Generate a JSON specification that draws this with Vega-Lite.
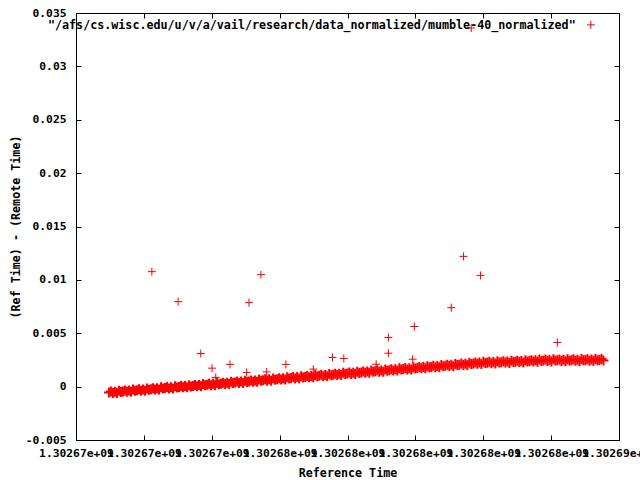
{
"$schema":"https://vega.github.io/schema/vega-lite/v6.json",
"width":543,"height":427,
"autosize":{"type":"none"},
"padding":{"left":76,"top":13,"right":21,"bottom":40},
"background":"white",
"config":{
"font":"DejaVu Sans Mono",
"view":{"stroke":"black","strokeWidth":1},
"axis":{"domainColor":"black","tickColor":"black","labelColor":"black","titleColor":"black","labelFont":"DejaVu Sans Mono","titleFont":"DejaVu Sans Mono","labelFontSize":11.3,"titleFontSize":11.7,"labelFontWeight":"bold","titleFontWeight":"bold","grid":false,"tickSize":-5,"labelFlush":false,"labelOverlap":false,"labelLimit":0}
},
"datasets":{
"band":[
{"t":1302670970,"d":-0.00056},{"t":1302671029,"d":-0.00046},{"t":1302671088,"d":-0.00059},{"t":1302671147,"d":-0.00047},{"t":1302671206,"d":-0.0006},{"t":1302671265,"d":-0.00038},{"t":1302671324,"d":-0.0005},{"t":1302671383,"d":-0.00045},{"t":1302671442,"d":-0.00036},{"t":1302671501,"d":-0.00048},
{"t":1302671560,"d":-0.00037},{"t":1302671619,"d":-0.00049},{"t":1302671678,"d":-0.00028},{"t":1302671737,"d":-0.00039},{"t":1302671796,"d":-0.00035},{"t":1302671855,"d":-0.00025},{"t":1302671914,"d":-0.00038},{"t":1302671973,"d":-0.00026},{"t":1302672032,"d":-0.00039},{"t":1302672091,"d":-0.00017},
{"t":1302672150,"d":-0.00029},{"t":1302672209,"d":-0.00024},{"t":1302672268,"d":-0.00015},{"t":1302672327,"d":-0.00027},{"t":1302672386,"d":-0.00016},{"t":1302672445,"d":-0.00028},{"t":1302672504,"d":-0.00007},{"t":1302672563,"d":-0.00018},{"t":1302672622,"d":-0.00014},{"t":1302672681,"d":-0.00004},
{"t":1302672740,"d":-0.00017},{"t":1302672799,"d":-0.00005},{"t":1302672858,"d":-0.00018},{"t":1302672917,"d":0.00003},{"t":1302672976,"d":-0.00008},{"t":1302673035,"d":-0.00003},{"t":1302673094,"d":0.00006},{"t":1302673153,"d":-0.00006},{"t":1302673212,"d":0.00005},{"t":1302673271,"d":-0.00007},
{"t":1302673330,"d":0.00014},{"t":1302673389,"d":0.00002},{"t":1302673448,"d":0.00007},{"t":1302673507,"d":0.00016},{"t":1302673566,"d":0.00004},{"t":1302673625,"d":0.00015},{"t":1302673684,"d":0.00003},{"t":1302673743,"d":0.00024},{"t":1302673802,"d":0.00013},{"t":1302673861,"d":0.00017},
{"t":1302673920,"d":0.00027},{"t":1302673979,"d":0.00014},{"t":1302674038,"d":0.00026},{"t":1302674097,"d":0.00013},{"t":1302674156,"d":0.00035},{"t":1302674215,"d":0.00023},{"t":1302674274,"d":0.00028},{"t":1302674333,"d":0.00037},{"t":1302674392,"d":0.00025},{"t":1302674451,"d":0.00036},
{"t":1302674510,"d":0.00024},{"t":1302674569,"d":0.00045},{"t":1302674628,"d":0.00034},{"t":1302674687,"d":0.00038},{"t":1302674746,"d":0.00048},{"t":1302674805,"d":0.00035},{"t":1302674864,"d":0.00047},{"t":1302674923,"d":0.00034},{"t":1302674982,"d":0.00056},{"t":1302675041,"d":0.00044},
{"t":1302675100,"d":0.00049},{"t":1302675159,"d":0.00058},{"t":1302675218,"d":0.00046},{"t":1302675277,"d":0.00057},{"t":1302675336,"d":0.00045},{"t":1302675395,"d":0.00066},{"t":1302675454,"d":0.00055},{"t":1302675513,"d":0.00059},{"t":1302675572,"d":0.00069},{"t":1302675631,"d":0.00056},
{"t":1302675690,"d":0.00068},{"t":1302675749,"d":0.00055},{"t":1302675808,"d":0.00077},{"t":1302675867,"d":0.00065},{"t":1302675926,"d":0.0007},{"t":1302675985,"d":0.00079},{"t":1302676044,"d":0.00067},{"t":1302676103,"d":0.00078},{"t":1302676162,"d":0.00066},{"t":1302676221,"d":0.00087},
{"t":1302676280,"d":0.00076},{"t":1302676339,"d":0.0008},{"t":1302676398,"d":0.0009},{"t":1302676457,"d":0.00077},{"t":1302676516,"d":0.00089},{"t":1302676575,"d":0.00076},{"t":1302676634,"d":0.00098},{"t":1302676693,"d":0.00086},{"t":1302676752,"d":0.00091},{"t":1302676811,"d":0.001},
{"t":1302676870,"d":0.00088},{"t":1302676929,"d":0.00099},{"t":1302676988,"d":0.00087},{"t":1302677047,"d":0.00108},{"t":1302677106,"d":0.00097},{"t":1302677165,"d":0.00101},{"t":1302677224,"d":0.00111},{"t":1302677283,"d":0.00098},{"t":1302677342,"d":0.0011},{"t":1302677401,"d":0.00097},
{"t":1302677460,"d":0.00119},{"t":1302677519,"d":0.00107},{"t":1302677578,"d":0.00112},{"t":1302677637,"d":0.00121},{"t":1302677696,"d":0.00109},{"t":1302677755,"d":0.0012},{"t":1302677814,"d":0.00108},{"t":1302677873,"d":0.00129},{"t":1302677932,"d":0.00118},{"t":1302677991,"d":0.00122},
{"t":1302678050,"d":0.00132},{"t":1302678109,"d":0.00119},{"t":1302678168,"d":0.00131},{"t":1302678227,"d":0.00118},{"t":1302678286,"d":0.0014},{"t":1302678345,"d":0.00128},{"t":1302678404,"d":0.00133},{"t":1302678463,"d":0.00142},{"t":1302678522,"d":0.0013},{"t":1302678581,"d":0.00141},
{"t":1302678640,"d":0.00129},{"t":1302678699,"d":0.0015},{"t":1302678758,"d":0.00139},{"t":1302678817,"d":0.00143},{"t":1302678876,"d":0.00153},{"t":1302678935,"d":0.0014},{"t":1302678994,"d":0.00152},{"t":1302679053,"d":0.00139},{"t":1302679112,"d":0.00161},{"t":1302679171,"d":0.00149},
{"t":1302679230,"d":0.00154},{"t":1302679289,"d":0.00163},{"t":1302679348,"d":0.00151},{"t":1302679407,"d":0.00162},{"t":1302679466,"d":0.0015},{"t":1302679525,"d":0.00171},{"t":1302679584,"d":0.0016},{"t":1302679643,"d":0.00164},{"t":1302679702,"d":0.00174},{"t":1302679761,"d":0.00161},
{"t":1302679820,"d":0.00173},{"t":1302679879,"d":0.0016},{"t":1302679938,"d":0.00182},{"t":1302679997,"d":0.0017},{"t":1302680056,"d":0.00175},{"t":1302680115,"d":0.00184},{"t":1302680174,"d":0.00172},{"t":1302680233,"d":0.00183},{"t":1302680292,"d":0.00171},{"t":1302680351,"d":0.00192},
{"t":1302680410,"d":0.00181},{"t":1302680469,"d":0.00185},{"t":1302680528,"d":0.00195},{"t":1302680587,"d":0.00182},{"t":1302680646,"d":0.00194},{"t":1302680705,"d":0.00181},{"t":1302680764,"d":0.00203},{"t":1302680823,"d":0.00191},{"t":1302680882,"d":0.00196},{"t":1302680941,"d":0.00205},
{"t":1302681000,"d":0.00193},{"t":1302681059,"d":0.00204},{"t":1302681118,"d":0.00192},{"t":1302681177,"d":0.00213},{"t":1302681236,"d":0.00202},{"t":1302681295,"d":0.00206},{"t":1302681354,"d":0.00216},{"t":1302681413,"d":0.00203},{"t":1302681472,"d":0.00215},{"t":1302681531,"d":0.00202},
{"t":1302681590,"d":0.00224},{"t":1302681649,"d":0.00212},{"t":1302681708,"d":0.00217},{"t":1302681767,"d":0.00226},{"t":1302681826,"d":0.00214},{"t":1302681885,"d":0.00225},{"t":1302681944,"d":0.00212},{"t":1302682003,"d":0.00233},{"t":1302682062,"d":0.00221},{"t":1302682121,"d":0.00224},
{"t":1302682180,"d":0.00233},{"t":1302682239,"d":0.0022},{"t":1302682298,"d":0.0023},{"t":1302682357,"d":0.00217},{"t":1302682416,"d":0.00238},{"t":1302682475,"d":0.00226},{"t":1302682534,"d":0.00229},{"t":1302682593,"d":0.00238},{"t":1302682652,"d":0.00225},{"t":1302682711,"d":0.00236},
{"t":1302682770,"d":0.00222},{"t":1302682829,"d":0.00243},{"t":1302682888,"d":0.00231},{"t":1302682947,"d":0.00234},{"t":1302683006,"d":0.00243},{"t":1302683065,"d":0.0023},{"t":1302683124,"d":0.00241},{"t":1302683183,"d":0.00227},{"t":1302683242,"d":0.00248},{"t":1302683301,"d":0.00236},
{"t":1302683360,"d":0.00239},{"t":1302683419,"d":0.00248},{"t":1302683478,"d":0.00235},{"t":1302683537,"d":0.00246},{"t":1302683596,"d":0.00232},{"t":1302683655,"d":0.00253},{"t":1302683714,"d":0.00241},{"t":1302683773,"d":0.00244},{"t":1302683832,"d":0.00253},{"t":1302683891,"d":0.0024},
{"t":1302683950,"d":0.0025},{"t":1302684009,"d":0.00236},{"t":1302684068,"d":0.00256},{"t":1302684127,"d":0.00244},{"t":1302684186,"d":0.00247},{"t":1302684245,"d":0.00255},{"t":1302684304,"d":0.00241},{"t":1302684363,"d":0.00251},{"t":1302684422,"d":0.00237},{"t":1302684481,"d":0.00257},
{"t":1302684540,"d":0.00245},{"t":1302684599,"d":0.00248},{"t":1302684658,"d":0.00256},{"t":1302684717,"d":0.00242},{"t":1302684776,"d":0.00252},{"t":1302684835,"d":0.00238},{"t":1302684894,"d":0.00258},{"t":1302684953,"d":0.00246},{"t":1302685012,"d":0.00249},{"t":1302685071,"d":0.00257},
{"t":1302685130,"d":0.00243},{"t":1302685189,"d":0.00253},{"t":1302685248,"d":0.00239},{"t":1302685307,"d":0.00259},{"t":1302685366,"d":0.00247},{"t":1302685425,"d":0.0025},{"t":1302685484,"d":0.00258},{"t":1302685543,"d":0.00244}
],
"out":[
{"t":1302672235,"d":0.01077},{"t":1302673009,"d":0.00796},{"t":1302675450,"d":0.01049},{"t":1302675097,"d":0.00787},{"t":1302673676,"d":0.0031},{"t":1302674009,"d":0.00173},{"t":1302674538,"d":0.00208},{"t":1302675029,"d":0.00133},{"t":1302675617,"d":0.00138},{"t":1302676185,"d":0.00208},{"t":1302674117,"d":0.00086},{"t":1302676991,"d":0.00164},{"t":1302677558,"d":0.00273},{"t":1302677891,"d":0.00264},{"t":1302678844,"d":0.0021},{"t":1302679205,"d":0.0046},{"t":1302679205,"d":0.00313},{"t":1302679920,"d":0.00257},{"t":1302679970,"d":0.00563},{"t":1302681058,"d":0.0074},{"t":1302681420,"d":0.0122},{"t":1302681920,"d":0.01042},{"t":1302684184,"d":0.00413},{"t":1302681646,"d":0.0336}
]
},
"layer":[
{
"data":{"name":"band"},
"mark":{"type":"point","shape":"M-1,0H1M0,-1V1","filled":false,"size":100,"strokeWidth":2,"opacity":1},
"encoding":{
"x":{"field":"t","type":"quantitative","scale":{"domain":[1302670000,1302686000],"nice":false,"zero":false},
"axis":{"orient":"bottom","title":"Reference Time","values":[1302670000,1302672000,1302674000,1302676000,1302678000,1302680000,1302682000,1302684000,1302686000],"format":".5e","labelExpr":"replace(datum.label,'e+9','e+09')","labelPadding":12,"titlePadding":9}},
"y":{"field":"d","type":"quantitative","scale":{"domain":[-0.005,0.035],"nice":false,"zero":false},
"axis":{"orient":"left","title":"(Ref Time) - (Remote Time)","values":[-0.005,0,0.005,0.01,0.015,0.02,0.025,0.03,0.035],"format":"~g","labelExpr":"replace(datum.label,'−','-')","labelPadding":15,"titlePadding":4}},
"color":{"datum":"\"/afs/cs.wisc.edu/u/v/a/vail/research/data_normalized/mumble-40_normalized\"","type":"nominal","scale":{"range":["#ff0000"]},
"legend":{"orient":"none","legendX":509,"legendY":6,"title":null,"padding":0,"labelAlign":"right","labelOffset":-21,"labelLimit":0,"symbolType":"M-1,0H1M0,-1V1","symbolSize":64,"symbolStrokeWidth":1,"labelFont":"DejaVu Sans Mono","labelFontSize":11.7,"labelFontWeight":"bold","labelColor":"black"}}
}
},
{
"data":{"name":"out"},
"mark":{"type":"point","shape":"M-1,0H1M0,-1V1","filled":false,"size":64,"strokeWidth":1,"opacity":1},
"encoding":{
"x":{"field":"t","type":"quantitative","axis":{"orient":"top","labels":false,"title":null,"values":[1302670000,1302672000,1302674000,1302676000,1302678000,1302680000,1302682000,1302684000,1302686000]}},
"y":{"field":"d","type":"quantitative","axis":{"orient":"right","labels":false,"title":null,"values":[-0.005,0,0.005,0.01,0.015,0.02,0.025,0.03,0.035]}},
"color":{"datum":"\"/afs/cs.wisc.edu/u/v/a/vail/research/data_normalized/mumble-40_normalized\"","type":"nominal"}
}
}
],
"resolve":{"axis":{"x":"independent","y":"independent"}}
}
